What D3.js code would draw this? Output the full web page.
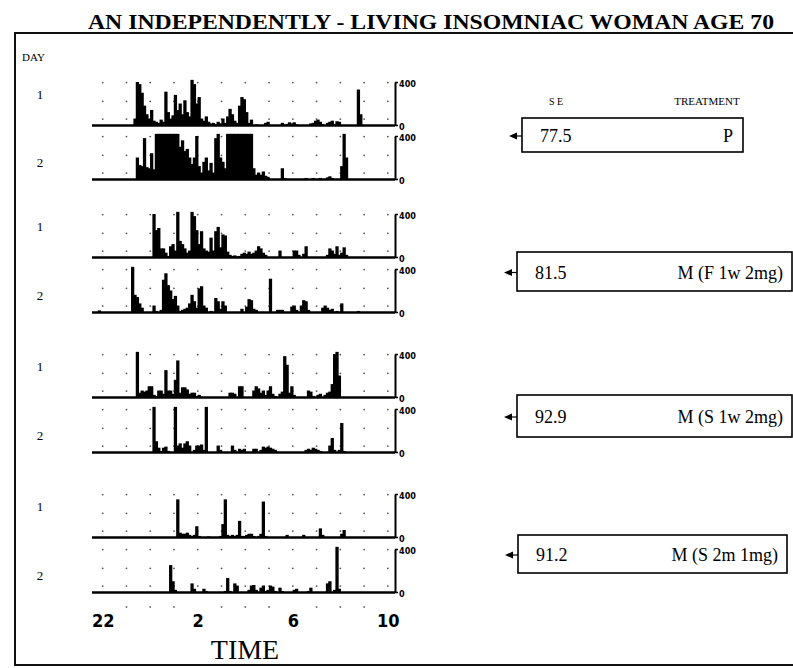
<!DOCTYPE html>
<html><head><meta charset="utf-8">
<script src="https://cdn.jsdelivr.net/npm/d3@7"></script>
<style>body{margin:0;background:#fff}</style>
</head><body>
<svg id="c" width="793" height="668"></svg>
<script>
// ---------- DATA ----------
// activity counts per 6-minute bin, [hours after 22:00, count]; zero bins omitted
const placeboDay1 = [[1.3,60],[1.4,400],[1.5,380],[1.6,300],[1.7,180],[1.8,100],[1.9,60],[2.0,140],[2.1,40],[2.2,30],[2.3,20],[2.4,50],[2.5,30],[2.6,310],[2.7,120],[2.8,60],[2.9,90],[3.0,280],[3.1,140],[3.2,200],[3.3,100],[3.4,230],[3.5,120],[3.6,80],[3.7,420],[3.8,380],[3.9,200],[4.0,260],[4.1,60],[4.2,40],[4.3,80],[4.4,30],[4.5,15],[4.6,20],[4.7,10],[4.8,30],[4.9,15],[5.0,60],[5.1,20],[5.2,80],[5.3,150],[5.4,100],[5.5,40],[5.6,20],[5.7,180],[5.8,260],[5.9,240],[6.0,120],[6.1,20],[6.2,50],[6.4,5],[6.8,20],[6.9,30],[7.5,20],[7.6,5],[7.7,10],[7.8,25],[7.9,15],[8.0,25],[8.1,5],[8.7,15],[8.8,20],[8.9,40],[9.0,50],[9.1,30],[9.2,10],[9.4,20],[9.5,30],[9.6,40],[9.7,10],[9.8,35],[9.9,30],[10.7,330],[10.8,100]];
const placeboDay2 = [[1.4,200],[1.5,130],[1.6,120],[1.7,380],[1.8,110],[1.9,100],[2.0,240],[2.1,90],[2.2,420],[2.3,420],[2.4,420],[2.5,420],[2.6,420],[2.7,420],[2.8,420],[2.9,420],[3.0,420],[3.1,420],[3.2,300],[3.3,360],[3.4,260],[3.5,280],[3.6,200],[3.7,140],[3.8,200],[3.9,400],[4.0,120],[4.1,60],[4.2,160],[4.3,200],[4.4,80],[4.5,150],[4.6,60],[4.7,380],[4.8,420],[4.9,200],[5.0,160],[5.1,100],[5.2,420],[5.3,420],[5.4,420],[5.5,420],[5.6,420],[5.7,420],[5.8,420],[5.9,420],[6.0,420],[6.1,420],[6.2,420],[6.3,100],[6.4,40],[6.5,60],[6.6,40],[6.7,70],[6.8,30],[6.9,20],[7.5,100],[7.6,10],[8.5,10],[8.8,10],[9.1,10],[9.4,15],[9.5,25],[9.6,10],[10.0,120],[10.1,420],[10.2,200]];
const fastWeekDay1 = [[2.1,400],[2.2,250],[2.3,270],[2.4,80],[2.5,80],[2.6,40],[2.7,10],[2.8,100],[2.9,120],[3.0,60],[3.1,420],[3.2,150],[3.3,120],[3.4,80],[3.5,40],[3.6,60],[3.7,420],[3.8,380],[3.9,250],[4.0,120],[4.1,240],[4.2,80],[4.3,60],[4.4,50],[4.5,180],[4.6,60],[4.7,240],[4.8,280],[4.9,90],[5.0,210],[5.1,200],[5.2,50],[5.3,20],[5.4,10],[5.5,15],[5.6,5],[5.7,10],[5.8,30],[5.9,40],[6.0,30],[6.1,50],[6.2,30],[6.3,40],[6.4,60],[6.5,100],[6.6,80],[6.7,40],[6.8,20],[7.4,60],[8.0,60],[8.1,60],[8.2,20],[8.4,30],[8.5,100],[9.4,20],[9.5,80],[9.6,60],[9.7,30],[9.8,100],[9.9,20],[10.0,40],[10.1,90],[10.2,20]];
const fastWeekDay2 = [[-0.2,15],[1.2,420],[1.3,160],[1.4,140],[1.5,80],[1.6,40],[2.1,60],[2.2,10],[2.4,20],[2.5,300],[2.6,360],[2.7,250],[2.8,200],[2.9,120],[3.0,150],[3.1,60],[3.2,10],[3.3,20],[3.4,30],[3.5,40],[3.6,80],[3.7,160],[3.8,100],[3.9,40],[4.0,220],[4.1,240],[4.2,60],[4.3,40],[4.5,10],[4.7,130],[4.8,100],[4.9,30],[5.0,100],[5.1,60],[5.8,30],[6.0,50],[6.1,120],[6.2,110],[6.3,30],[6.4,20],[7.0,310],[7.3,20],[7.4,20],[7.5,20],[7.9,50],[8.0,60],[8.1,20],[8.3,60],[8.4,110],[8.5,100],[8.6,20],[9.2,40],[9.3,60],[9.4,40],[9.5,20],[9.6,30],[9.8,10],[10.0,80],[10.7,10]];
const slowWeekDay1 = [[1.4,420],[1.5,40],[1.6,60],[1.7,50],[1.8,60],[1.9,100],[2.0,100],[2.1,20],[2.2,10],[2.3,60],[2.4,60],[2.5,30],[2.6,250],[2.7,60],[2.8,60],[2.9,30],[3.0,160],[3.1,340],[3.2,40],[3.3,90],[3.4,90],[3.5,70],[3.6,30],[3.7,40],[3.8,40],[3.9,10],[4.0,20],[5.3,40],[5.4,40],[5.5,30],[5.7,100],[5.8,100],[6.3,60],[6.4,100],[6.5,80],[6.6,40],[6.7,60],[6.8,20],[6.9,60],[7.0,100],[7.1,30],[7.2,10],[7.4,30],[7.5,50],[7.6,380],[7.7,300],[7.8,40],[7.9,100],[8.0,20],[8.6,60],[8.7,50],[8.8,10],[9.0,20],[9.1,30],[9.3,20],[9.4,40],[9.5,50],[9.6,120],[9.7,400],[9.8,420],[9.9,200]];
const slowWeekDay2 = [[2.1,420],[2.2,100],[2.3,40],[2.4,10],[2.5,40],[2.6,50],[2.7,10],[3.0,420],[3.1,60],[3.2,80],[3.3,40],[3.4,80],[3.5,100],[3.6,60],[3.8,20],[3.9,60],[4.0,60],[4.1,70],[4.2,20],[4.3,420],[4.8,60],[4.9,20],[5.4,60],[5.5,20],[5.7,30],[5.8,20],[5.9,30],[6.3,30],[6.4,30],[6.6,20],[6.7,50],[6.8,40],[6.9,50],[7.0,40],[7.1,30],[7.2,20],[8.5,20],[8.6,30],[8.7,20],[8.8,40],[8.9,30],[9.0,20],[9.1,10],[9.5,60],[9.6,130],[9.7,20],[9.9,20],[10.0,270],[10.1,10]];
const slowMonthDay1 = [[3.1,350],[3.2,40],[3.3,30],[3.4,30],[3.5,40],[3.6,20],[3.7,10],[3.8,20],[3.9,100],[4.0,10],[4.4,5],[4.9,10],[5.0,120],[5.1,350],[5.2,20],[5.3,10],[5.4,20],[5.5,10],[5.6,20],[5.7,150],[5.8,10],[5.9,10],[6.0,20],[6.1,30],[6.2,30],[6.3,10],[6.5,10],[6.6,30],[6.7,330],[6.8,10],[7.7,20],[8.4,20],[9.1,80],[9.2,20],[10.0,30],[10.1,65]];
const slowMonthDay2 = [[2.8,250],[2.9,100],[3.0,20],[3.7,80],[3.8,30],[4.2,30],[4.3,10],[5.1,10],[5.2,130],[5.3,10],[5.5,80],[5.6,60],[6.1,20],[6.2,60],[6.3,65],[6.4,20],[6.6,40],[6.7,60],[6.8,10],[6.9,20],[7.0,60],[7.1,50],[7.2,10],[7.4,40],[7.5,10],[8.0,20],[8.1,30],[8.6,10],[8.7,40],[9.4,80],[9.5,100],[9.7,20],[9.8,420],[9.9,30]];

const seValues = [77.5, 81.5, 92.9, 91.2];
const treatments = ["P", "M (F 1w 2mg)", "M (S 1w 2mg)", "M (S 2m 1mg)"];
const dayLabels = ["1", "2"];
const countTicks = [0, 400];
const hourTicks = [0, 4, 8, 12];          // hours after 22:00
const hourTickLabels = ["22", "2", "6", "10"];
const gridLevels = [55, 220, 395];
const binWidth = 0.1;

// ---------- LAYOUT ----------
const panels = [placeboDay1, placeboDay2, fastWeekDay1, fastWeekDay2, slowWeekDay1, slowWeekDay2, slowMonthDay1, slowMonthDay2];
const panelBase = [125, 179, 257, 312, 397, 452, 537, 592];
const panelH = 43;
const boxes = [
  {x:522, y:118, w:221, h:34, tr:733},
  {x:517, y:252, w:275, h:39, tr:783},
  {x:517, y:395, w:275, h:42, tr:783},
  {x:518, y:535, w:269, h:38, tr:778}
];

const svg = d3.select("#c");
const x = d3.scaleLinear().domain([-0.45, 12.3]).range([92, 395]);
const serif = "'Liberation Serif','Times New Roman',serif";
const narrow = "'Liberation Sans Narrow','DejaVu Sans Condensed','Liberation Sans',sans-serif";

// title
svg.append("text").attr("x", 431).attr("y", 29).attr("text-anchor", "middle")
  .attr("font-family", serif).attr("font-weight", "bold").attr("font-size", 20)
  .attr("textLength", 686).attr("lengthAdjust", "spacingAndGlyphs")
  .text("AN INDEPENDENTLY - LIVING INSOMNIAC WOMAN AGE 70");

// frame
svg.append("rect").attr("x", 15).attr("y", 33).attr("width", 800).attr("height", 632)
  .attr("fill", "none").attr("stroke", "#111").attr("stroke-width", 2);

svg.append("text").attr("x", 22).attr("y", 61).attr("font-family", serif)
  .attr("font-size", 11).text("DAY");

panels.forEach((data, i) => {
  const base = panelBase[i];
  const y = d3.scaleLinear().domain([0, 400]).range([base, base - panelH]);
  const g = svg.append("g");

  // dotted grid
  const pts = [];
  d3.range(0, 13).forEach(h => gridLevels.forEach(v => pts.push([h, v])));
  g.selectAll("circle.grid").data(pts).join("circle")
    .attr("cx", d => x(d[0])).attr("cy", d => y(d[1])).attr("r", 0.9).attr("fill", "#555");

  // bars
  g.selectAll("rect.bar").data(data).join("rect")
    .attr("x", d => x(d[0]) - 0.2).attr("width", x(binWidth) - x(0) + 0.9)
    .attr("y", d => y(d[1])).attr("height", d => base - y(d[1]))
    .attr("fill", "#000");

  // baseline
  g.append("line").attr("x1", x.range()[0]).attr("x2", x.range()[1])
    .attr("y1", base + 0.5).attr("y2", base + 0.5).attr("stroke", "#000").attr("stroke-width", 2.5);

  // right count axis
  const ax = g.append("g").attr("transform", `translate(${x.range()[1]},0)`)
    .call(d3.axisRight(y).tickValues(countTicks).tickSize(3).tickSizeOuter(0).tickPadding(1));
  ax.select(".domain").attr("stroke-width", 2);
  ax.selectAll(".tick line").attr("stroke-width", 1.5);
  ax.selectAll(".tick text").attr("font-family", narrow).attr("font-weight", "bold")
    .attr("font-size", 9).attr("dy", d => d === 0 ? "0.45em" : "0.55em");

  // day label
  svg.append("text").attr("x", 40).attr("y", base - (i % 2 === 0 ? 31 : 17))
    .attr("text-anchor", "middle").attr("dominant-baseline", "central")
    .attr("font-family", serif).attr("font-size", 13).text(dayLabels[i % 2]);
});

// time axis
const tAxis = svg.append("g").attr("transform", "translate(0,612)")
  .call(d3.axisBottom(x).tickValues(hourTicks).tickSize(0).tickPadding(2)
    .tickFormat((d, i) => hourTickLabels[i]));
tAxis.select(".domain").remove();
tAxis.selectAll(".tick text").attr("font-family", narrow).attr("font-weight", "bold")
  .attr("font-size", 18).attr("fill", "#000");
svg.append("g").selectAll("circle").data(d3.range(1, 12).filter(h => h % 4 !== 0)).join("circle")
  .attr("cx", d => x(d)).attr("cy", 607).attr("r", 0.9).attr("fill", "#666");

svg.append("text").attr("x", 245).attr("y", 659).attr("text-anchor", "middle")
  .attr("font-family", serif).attr("font-size", 28).text("TIME");

// treatment boxes
svg.append("text").attr("x", 556).attr("y", 105).attr("text-anchor", "middle")
  .attr("font-family", serif).attr("font-size", 10).text("S E");
svg.append("text").attr("x", 707).attr("y", 105).attr("text-anchor", "middle")
  .attr("font-family", serif).attr("font-size", 11).text("TREATMENT");

boxes.forEach((b, i) => {
  const cy = b.y + b.h / 2 + 1;
  svg.append("rect").attr("x", b.x).attr("y", b.y).attr("width", b.w).attr("height", b.h)
    .attr("fill", "none").attr("stroke", "#000").attr("stroke-width", 1.6);
  svg.append("line").attr("x1", b.x - 8).attr("x2", b.x).attr("y1", cy).attr("y2", cy)
    .attr("stroke", "#000").attr("stroke-width", 1.2);
  svg.append("path").attr("d", `M${b.x - 13},${cy} L${b.x - 5},${cy - 3.5} L${b.x - 5},${cy + 3.5} Z`)
    .attr("fill", "#000");
  svg.append("text").attr("x", b.x + 18).attr("y", cy + 6)
    .attr("font-family", serif).attr("font-size", 18).text(seValues[i].toFixed(1));
  svg.append("text").attr("x", b.tr).attr("y", cy + 6).attr("text-anchor", "end")
    .attr("font-family", serif).attr("font-size", 18).text(treatments[i]);
});
</script>
</body></html>
